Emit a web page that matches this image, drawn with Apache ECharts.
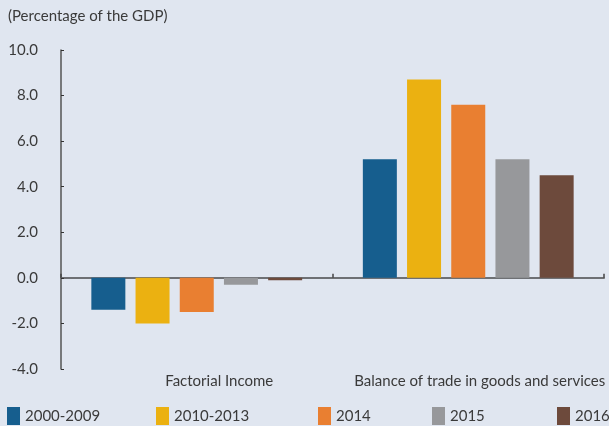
<!DOCTYPE html>
<html>
<head>
<meta charset="utf-8">
<script src="https://cdn.jsdelivr.net/npm/echarts@6/dist/echarts.min.js"></script>
<style>
  html, body { margin: 0; padding: 0; background: #e0e6f0; }
  #chart { width: 609px; height: 426px; }
</style>
</head>
<body>
<div id="chart"></div>
<script>
// categories and series
const categories = ['Factorial Income', 'Balance of trade in goods and services']
const periods = ['2000-2009', '2010-2013', '2014', '2015', '2016']
const v2000_2009 = [-1.4, 5.2]
const v2010_2013 = [-2.0, 8.7]
const v2014 = [-1.5, 7.6]
const v2015 = [-0.3, 5.2]
const v2016 = [-0.1, 4.5]
const yTicks = [-4, -2, 0, 2, 4, 6, 8, 10]

const colors = ['#165e8e', '#ebb111', '#e97f31', '#97989b', '#6d4a3c']
const values = [v2000_2009, v2010_2013, v2014, v2015, v2016]
const legendLeft = [7, 156, 318, 432, 557]   // legend items are not evenly spaced
const labelShift = [45, 23]                     // category labels sit right of centre

const font = 'Lato, "Open Sans", sans-serif'
const chart = echarts.init(document.getElementById('chart'))

chart.setOption({
  backgroundColor: '#e0e6f0',
  animation: false,
  textStyle: { fontFamily: font, color: '#3a3a3a' },
  title: {
    text: '(Percentage of the GDP)',
    left: 3, top: 4,
    textStyle: { fontFamily: font, fontSize: 15, fontWeight: 'normal', color: '#3a3a3a' }
  },
  legend: periods.map((p, i) => ({
    data: [p],
    left: legendLeft[i], top: 407,
    icon: 'rect', itemWidth: 13, itemHeight: 18,
    padding: 0,
    textStyle: { fontFamily: font, fontSize: 15, color: '#3a3a3a' }
  })),
  grid: { left: 61, right: 5, top: 50, bottom: 57 },
  xAxis: [{
    type: 'category',
    data: categories.map((c, i) => ({ value: c, textStyle: { padding: [0, 0, 0, labelShift[i]] } })),
    position: 'bottom',
    axisLine: { show: false, onZero: false },
    axisTick: { show: false },
    axisLabel: { interval: 0, margin: 5, fontSize: 15, color: '#3a3a3a', fontFamily: font }
  }, {
    type: 'category',
    data: categories,
    position: 'top',
    axisLine: { onZero: true, lineStyle: { color: '#6e7074', width: 2 } },
    axisTick: { show: true, length: 4, lineStyle: { color: '#444', width: 1.5 } },
    axisLabel: { show: false }
  }],
  yAxis: {
    type: 'value',
    min: yTicks[0], max: yTicks[yTicks.length - 1], interval: 2,
    axisLine: { show: true, lineStyle: { color: '#555', width: 1.5 } },
    axisTick: { show: true, inside: true, length: 3, lineStyle: { color: '#333' } },
    axisLabel: { formatter: v => v.toFixed(1), fontSize: 15, margin: 23, color: '#3a3a3a', fontFamily: font },
    splitLine: { show: false }
  },
  series: periods.map((p, i) => ({
    name: p,
    type: 'bar',
    xAxisIndex: 0,
    data: values[i],
    barWidth: 34,
    barGap: '30%',
    itemStyle: { color: colors[i] }
  }))
})
</script>
</body>
</html>
